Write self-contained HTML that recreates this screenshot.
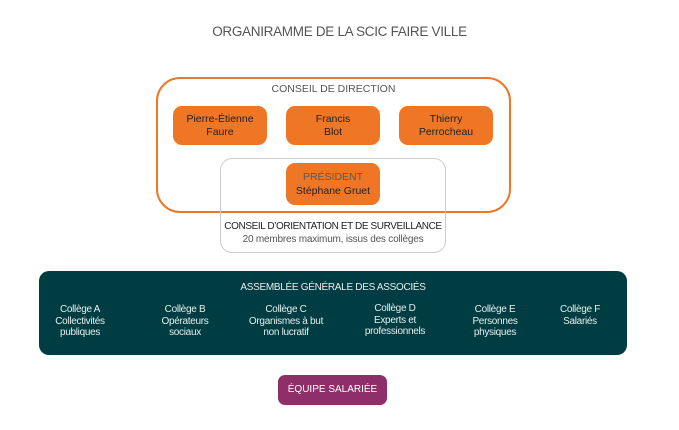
<!DOCTYPE html>
<html><head><meta charset="utf-8"><style>
body{margin:0;width:679px;height:430px;background:#fff;position:relative;overflow:hidden;font-family:"Liberation Sans",sans-serif}
.a{position:absolute;box-sizing:border-box;text-align:center}
.o{background:#ef7625;border-radius:9px;color:#222;font-size:10.5px;line-height:12.5px;display:flex;flex-direction:column;justify-content:center;align-items:center}
.c{color:#e6eeee;font-size:10px;line-height:11.5px;letter-spacing:-0.3px}
</style></head><body>
<div class="a" style="left:0;width:679px;top:24px;font-size:13.5px;color:#555;letter-spacing:-0.3px">ORGANIRAMME DE LA SCIC FAIRE VILLE</div>
<div class="a" style="left:156px;top:77px;width:355px;height:136px;border:2px solid #ef7625;border-radius:24px"></div>
<div class="a" style="left:220px;top:158px;width:226px;height:95px;border:1.5px solid #ccc;border-radius:12px"></div>
<div class="a" style="left:156px;top:83px;width:355px;font-size:10.5px;color:#555">CONSEIL DE DIRECTION</div>
<div class="a o" style="left:173px;top:106px;width:94px;height:39px">Pierre-Étienne<br>Faure</div>
<div class="a o" style="left:286px;top:106px;width:94px;height:39px">Francis<br>Blot</div>
<div class="a o" style="left:399px;top:106px;width:94px;height:39px">Thierry<br>Perrocheau</div>
<div class="a o" style="left:286px;top:163px;width:94px;height:42px"><span style="color:#5a5a5a">PRÉSIDENT</span><span style="margin-top:2px">Stéphane Gruet</span></div>
<div class="a" style="left:215px;top:221px;width:236px;font-size:10px;color:#222;letter-spacing:-0.4px">CONSEIL D’ORIENTATION ET DE SURVEILLANCE</div>
<div class="a" style="left:215px;top:234px;width:236px;font-size:10px;color:#555;letter-spacing:-0.2px">20 membres maximum, issus des collèges</div>
<div class="a" style="left:39px;top:271px;width:588px;height:84px;background:#003d43;border-radius:10px"></div>
<div class="a c" style="left:39px;top:282px;width:588px;font-size:10px">ASSEMBLÉE GÉNÉRALE DES ASSOCIÉS</div>
<div class="a c" style="left:45px;top:304px;width:70px">Collège A<br>Collectivités<br>publiques</div>
<div class="a c" style="left:145px;top:304px;width:80px">Collège B<br>Opérateurs<br>sociaux</div>
<div class="a c" style="left:236px;top:304px;width:100px">Collège C<br>Organismes à but<br>non lucratif</div>
<div class="a c" style="left:345px;top:303px;width:100px">Collège D<br>Experts et<br>professionnels</div>
<div class="a c" style="left:455px;top:304px;width:80px">Collège E<br>Personnes<br>physiques</div>
<div class="a c" style="left:545px;top:304px;width:70px">Collège F<br>Salariés</div>
<div class="a" style="left:278px;top:375px;width:109px;height:30px;background:#8f2f69;border-radius:7px;color:#fff;font-size:10px;line-height:30px">ÉQUIPE SALARIÉE</div>
</body></html>
